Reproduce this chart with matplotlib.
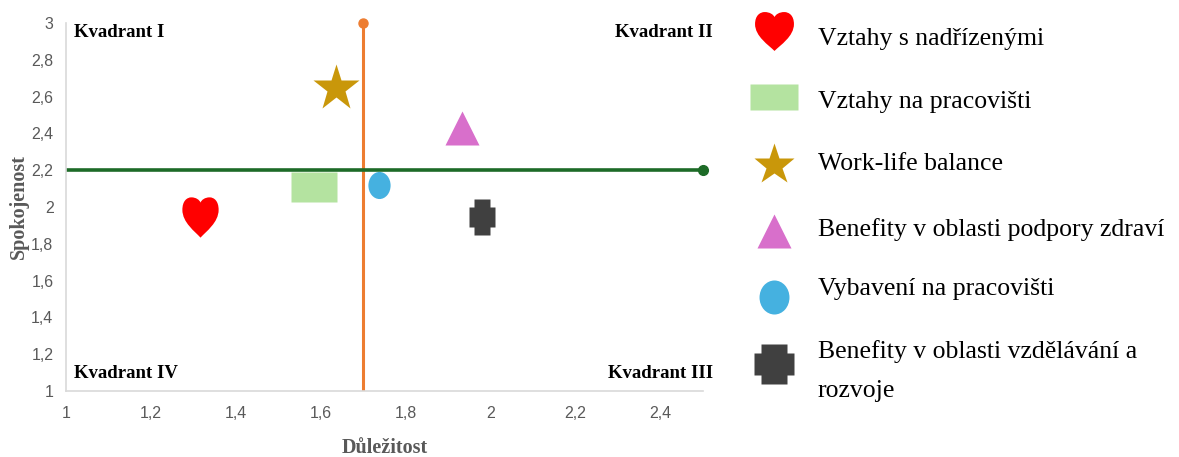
import numpy as np
import matplotlib
matplotlib.use('Agg')
import matplotlib.pyplot as plt
from matplotlib.path import Path
from matplotlib import font_manager

# Factors: importance (x) vs. satisfaction (y)
labels = ['Vztahy s nadřízenými', 'Vztahy na pracovišti', 'Work-life balance',
          'Benefity v oblasti podpory zdraví', 'Vybavení na pracovišti',
          'Benefity v oblasti vzdělávání a\nrozvoje']
importance = [1.316, 1.585, 1.635, 1.932, 1.736, 1.98]
satisfaction = [1.946, 2.11, 2.645, 2.43, 2.117, 1.943]
colors = ['#FF0000', '#B4E3A0', '#C9970A', '#D86FCB', '#45B1E0', '#404040']

importance_mean = 1.7
satisfaction_mean = 2.2

x_ticks = [1, 1.2, 1.4, 1.6, 1.8, 2, 2.2, 2.4]
y_ticks = [1, 1.2, 1.4, 1.6, 1.8, 2, 2.2, 2.4, 2.6, 2.8, 3]


def heart_path(w=0.95):
    verts = [(0, -1.0),
             (-0.3, -0.7), (-1.0, -0.25), (-1.0, 0.38),
             (-1.0, 0.82), (-0.75, 1.0), (-0.5, 1.0),
             (-0.25, 1.0), (-0.06, 0.88), (0, 0.74),
             (0.06, 0.88), (0.25, 1.0), (0.5, 1.0),
             (0.75, 1.0), (1.0, 0.82), (1.0, 0.38),
             (1.0, -0.25), (0.3, -0.7), (0, -1.0)]
    codes = [Path.MOVETO] + [Path.CURVE4] * 18
    return Path(np.array(verts) * [w, 1.0], codes)


def rect_path(w, h):
    return Path([(-w, -h), (w, -h), (w, h), (-w, h), (-w, -h)], closed=True)


def cross_path(w, h, aw, ah):
    v = [(-aw, -h), (aw, -h), (aw, -ah), (w, -ah), (w, ah), (aw, ah),
         (aw, h), (-aw, h), (-aw, ah), (-w, ah), (-w, -ah), (-aw, -ah), (-aw, -h)]
    return Path(v, closed=True)


def ellipse_path(w, h):
    c = Path.unit_circle()
    return Path(c.vertices * [w, h], c.codes)


plot_markers = [heart_path(0.9), rect_path(1.0, 0.66), '*', '^',
                ellipse_path(0.82, 1.0), cross_path(0.68, 1.0, 0.43, 0.54)]
plot_sizes = [29, 32.5, 35, 25, 19.5, 26.5]
legend_markers = [heart_path(1.0), rect_path(1.0, 0.55), '*', '^',
                  ellipse_path(0.88, 1.0), cross_path(1.0, 1.0, 0.65, 0.55)]
legend_sizes = [28, 35, 31, 25, 24.5, 29]

installed = {f.name for f in font_manager.fontManager.ttflist}
tick_font = 'Liberation Sans Narrow' if 'Liberation Sans Narrow' in installed else 'Liberation Sans'
serif = 'Liberation Serif'

fig = plt.figure(figsize=(11.79, 4.57), dpi=100)
ax = fig.add_axes([66 / 1179, 1 - 391 / 457, 637 / 1179, 368 / 457])

# mean lines splitting the chart into quadrants
ax.plot([importance_mean, importance_mean], [1, 3], color='#ED7D31', lw=2.2,
        zorder=2)
ax.plot([importance_mean], [3], 'o', color='#ED7D31', ms=6.5, zorder=2,
        clip_on=False)
ax.plot([1, 2.5], [satisfaction_mean, satisfaction_mean], color='#1D6B27',
        lw=2.6, zorder=2)
ax.plot([2.5], [satisfaction_mean], 'o', color='#1D6B27', ms=7, zorder=2,
        clip_on=False)

for x, y, m, s, c in zip(importance, satisfaction, plot_markers, plot_sizes, colors):
    ax.plot(x, y, marker=m, ms=s, color=c, mec='none', ls='none', zorder=3)

ax.set_xlim(1, 2.5)
ax.set_ylim(1, 3)
ax.set_xticks(x_ticks)
ax.set_yticks(y_ticks)
ax.set_xticklabels([f'{t:g}'.replace('.', ',') for t in x_ticks])
ax.set_yticklabels([f'{t:g}'.replace('.', ',') for t in y_ticks])
ax.tick_params(length=0, colors='#595959', labelsize=11.5)
ax.tick_params(axis='x', pad=11)
ax.tick_params(axis='y', pad=9)
for lab in ax.get_xticklabels() + ax.get_yticklabels():
    lab.set_fontfamily(tick_font)
for side in ['top', 'right']:
    ax.spines[side].set_visible(False)
for side in ['left', 'bottom']:
    ax.spines[side].set_color('#D9D9D9')
    ax.spines[side].set_linewidth(1.2)

ax.set_xlabel('Důležitost', family=serif, fontweight='bold', fontsize=14.5,
              color='#595959')
ax.set_ylabel('Spokojenost', family=serif, fontweight='bold', fontsize=14.5,
              color='#595959')
ax.xaxis.set_label_coords(0.5, -(453 - 391) / 368, transform=ax.transAxes)
ax.xaxis.label.set_va('baseline')
ax.yaxis.set_label_coords(-(66 - 29) / 637, 0.5)

quad_kw = dict(family=serif, fontweight='bold', fontsize=13.5, color='black')
ax.text(8 / 637, 1 - 10 / 368, 'Kvadrant I', ha='left', va='center',
        transform=ax.transAxes, **quad_kw)
ax.text(1 + 10 / 637, 1 - 10 / 368, 'Kvadrant II', ha='right', va='center',
        transform=ax.transAxes, **quad_kw)
ax.text(1 + 10 / 637, 18 / 368, 'Kvadrant III', ha='right', va='center',
        transform=ax.transAxes, **quad_kw)
ax.text(8 / 637, 18 / 368, 'Kvadrant IV', ha='left', va='center',
        transform=ax.transAxes, **quad_kw)

# legend drawn in its own axes, pixel coordinates
lax = fig.add_axes([0, 0, 1, 1], facecolor='none')
lax.set_xlim(0, 1179)
lax.set_ylim(457, 0)
lax.axis('off')
marker_y = [31, 97, 165, 231, 297, 364]
baseline_y = [45, 108, 170, 236, 295, 358]
line_step = 39
for m, s, c, lbl, my, by in zip(legend_markers, legend_sizes, colors, labels,
                                marker_y, baseline_y):
    lax.plot(774, my, marker=m, ms=s, color=c, mec='none', ls='none')
    for i, line in enumerate(lbl.split('\n')):
        lax.text(818, by + i * line_step, line, ha='left', va='baseline',
                 family=serif, fontsize=18.5, color='black')

fig.savefig('out.png', dpi=100)
